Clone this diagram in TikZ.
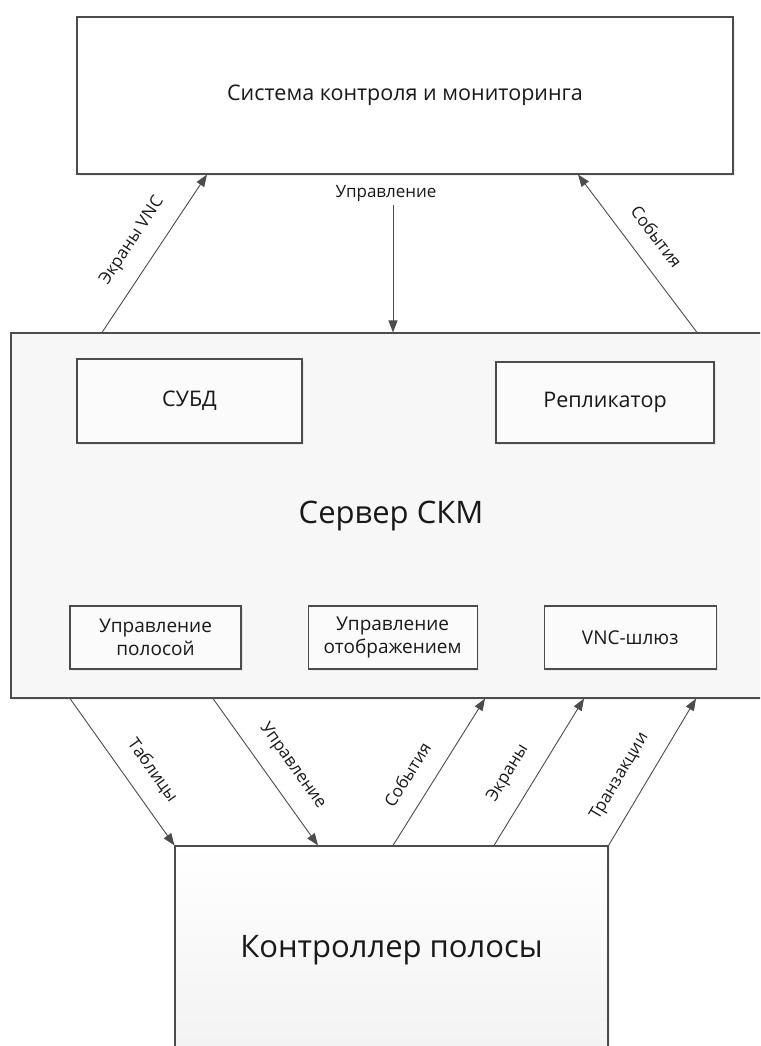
\documentclass[tikz,border=0pt]{standalone}
\usepackage{fontspec}
\setmainfont{Open Sans}
\usepackage{tikz}
\usetikzlibrary{arrows.meta, positioning, calc, shadows}

\begin{document}
\begin{tikzpicture}[
    x=1pt, y=-1pt,
    % --- STYLES ---
    block/.style={
        rectangle, draw=black!70, line width=1.1pt,
        fill=white, align=center, text=black!90,
        inner sep=0pt,
        drop shadow={opacity=0.12, shadow xshift=2pt, shadow yshift=-2pt}
    },
    part/.style={
        block, fill=gray!3,
        font=\fontsize{19}{23}\selectfont
    },
    flow/.style={-{Triangle[length=12pt, width=9pt]}, line width=0.9pt, draw=black!70},
    flowlabel/.style={font=\fontsize{17}{20}\selectfont, text=black!90, sloped, above=25.5pt, anchor=center}
]

% ===== 1. FRAME =====
\useasboundingbox (0,0) rectangle (760,1046);
\clip (0,0) rectangle (760,1046);

% ===== 2. SYSTEM (TOP) =====
\node[block, minimum width=656pt, minimum height=157pt,
      font=\fontsize{21.5}{25}\selectfont] (smk) at (405,95.5) {Система контроля и мониторинга};

% ===== 3. SERVER =====
\node[block, fill=gray!6, minimum width=760pt, minimum height=365pt,
      font=\fontsize{31}{35}\selectfont] (srv) at (391,515.5) {Сервер СКМ};

\node[part, minimum width=225pt, minimum height=84pt,
      font=\fontsize{21.5}{25}\selectfont] (dbms) at (189.5,401) {СУБД};
\node[part, minimum width=218pt, minimum height=81pt,
      font=\fontsize{21.5}{25}\selectfont] (repl) at (605,402.5) {Репликатор};

\node[part, minimum width=171pt, minimum height=63pt] (lanectl) at (155.5,637.5) {Управление\\ полосой};
\node[part, minimum width=169pt, minimum height=63pt, right=66pt of lanectl] (dispctl) {Управление\\ отображением};
\node[part, minimum width=172pt, minimum height=63pt, right=66pt of dispctl] (vncgw) {VNC-шлюз};

% ===== 4. LANE CONTROLLER (BOTTOM) =====
\node[block, minimum width=433pt, minimum height=208pt,
      top color=white, bottom color=gray!10,
      font=\fontsize{31}{35}\selectfont] (lane) at (391.5,950) {Контроллер полосы};

% ===== 5. CONNECTIONS =====

% -- Server <-> system --
\draw[flow] (srv.north -| 102,0) -- node[flowlabel, pos=0.49] {Экраны VNC} (smk.south -| 207,0);
\node[font=\fontsize{17}{20}\selectfont, text=black!90] (ctrl) at (386,193) {Управление};
\draw[flow] ([xshift=7pt]ctrl.south) -- ([xshift=7pt]ctrl.south |- srv.north);
\draw[flow] (srv.north -| 697,0) -- node[flowlabel, pos=0.51] {События} (smk.south -| 578,0);

% -- Server <-> lane controller --
\draw[flow] (srv.south -| 70,0) -- node[flowlabel, pos=0.59] {Таблицы} (lane.north west);
\draw[flow] (srv.south -| 213,0) -- node[flowlabel, pos=0.56] {Управление} (lane.north -| 318,0);
\draw[flow] (lane.north -| 393,0) -- node[flowlabel, pos=0.39] {События} (srv.south -| 485,0);
\draw[flow] (lane.north -| 494,0) -- node[flowlabel, pos=0.4] {Экраны} (srv.south -| 584,0);
\draw[flow] (lane.north east) -- node[flowlabel, pos=0.38] {Транзакции} (srv.south -| 696,0);

\end{tikzpicture}
\end{document}
